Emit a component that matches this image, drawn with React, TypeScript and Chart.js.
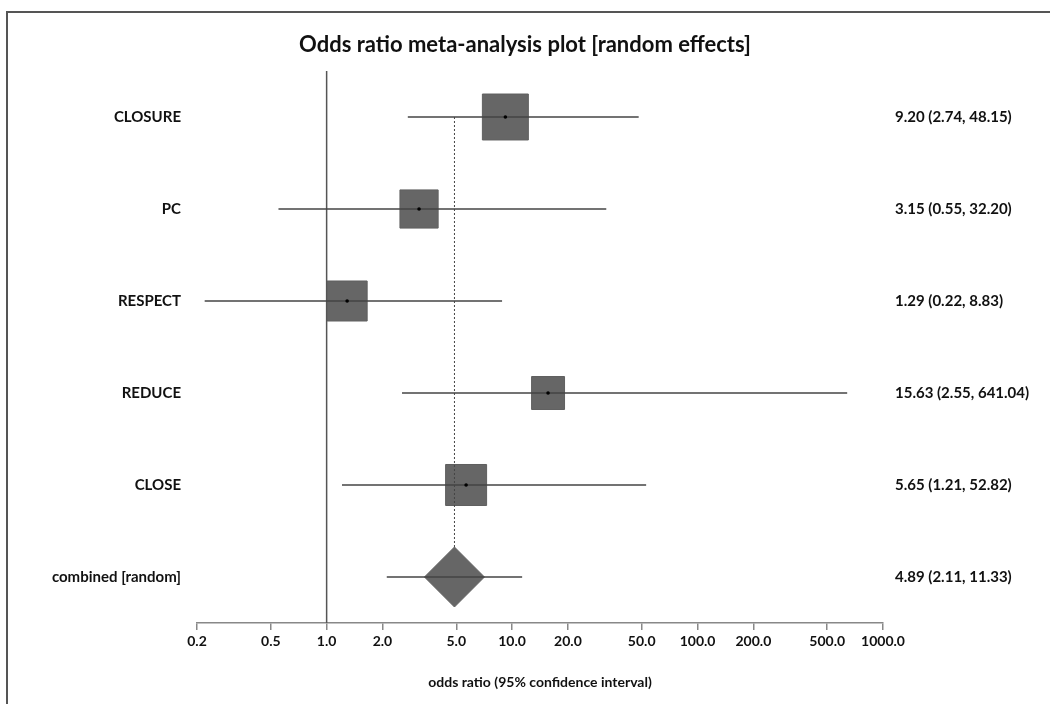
import React, { useEffect, useRef } from "react";
import { Chart, registerables } from "chart.js";

Chart.register(...registerables);

const studies = ["CLOSURE", "PC", "RESPECT", "REDUCE", "CLOSE", "combined [random]"];
const oddsRatio = [9.2, 3.15, 1.29, 15.63, 5.65, 4.89];
const ciLower = [2.74, 0.55, 0.22, 2.55, 1.21, 2.11];
const ciUpper = [48.15, 32.2, 8.83, 641.04, 52.82, 11.33];
const xTicks = [0.2, 0.5, 1, 2, 5, 10, 20, 50, 100, 200, 500, 1000];
const nullValue = 1;

const FONT = "Lato, 'DejaVu Sans', sans-serif";
const boxRadius = [32.5, 27, 28.3, 23.3, 29];

export default function App() {
  const ref = useRef<HTMLCanvasElement | null>(null);

  useEffect(() => {
    const canvas = ref.current;
    if (!canvas) return;
    const n = studies.length;
    const last = n - 1;
    const rowIdx = studies.map((_, i) => i);
    const rightLabels = studies.map(
      (_, i) => `${oddsRatio[i].toFixed(2)} (${ciLower[i].toFixed(2)}, ${ciUpper[i].toFixed(2)})`
    );

    const datasets: any[] = [];
    datasets.push({
      label: "boxes",
      data: rowIdx.slice(0, last).map((i) => ({ x: oddsRatio[i], y: i })),
      pointStyle: "rect",
      pointRadius: boxRadius,
      backgroundColor: "#666666",
      borderColor: "#606060",
      borderWidth: 1,
      order: 6,
    });
    datasets.push({
      label: "combinedLine",
      data: [
        { x: oddsRatio[last], y: 0 },
        { x: oddsRatio[last], y: last },
      ],
      showLine: true,
      borderColor: "#444444",
      borderWidth: 1,
      borderDash: [2, 2],
      pointRadius: 0,
      order: 5,
    });
    datasets.push({
      label: "diamond",
      data: [{ x: oddsRatio[last], y: last }],
      pointStyle: "rectRot",
      pointRadius: 30,
      backgroundColor: "#666666",
      borderColor: "#606060",
      borderWidth: 1,
      order: 4,
    });
    datasets.push({
      label: "nullLine",
      data: [
        { x: nullValue, y: -0.5 },
        { x: nullValue, y: n - 0.5 },
      ],
      showLine: true,
      borderColor: "#555555",
      borderWidth: 1.5,
      pointRadius: 0,
      order: 3,
    });
    rowIdx.forEach((i) => {
      datasets.push({
        label: "ci" + i,
        data: [
          { x: ciLower[i], y: i },
          { x: ciUpper[i], y: i },
        ],
        showLine: true,
        borderColor: "#444444",
        borderWidth: 1.5,
        pointRadius: 0,
        order: 2,
      });
    });
    datasets.push({
      label: "dots",
      data: rowIdx.slice(0, last).map((i) => ({ x: oddsRatio[i], y: i })),
      pointStyle: "circle",
      pointRadius: 1.8,
      backgroundColor: "#000000",
      borderWidth: 0,
      order: 1,
    });

    const rowTicks = (axis: any) => {
      axis.ticks = rowIdx.map((v) => ({ value: v }));
    };

    const chart = new Chart(canvas, {
      type: "scatter",
      data: { datasets },
      options: {
        animation: false,
        responsive: false,
        maintainAspectRatio: false,
        layout: { padding: { left: 0, right: 0, top: 0, bottom: 0 } },
        plugins: {
          legend: { display: false },
          tooltip: { enabled: false },
          title: {
            display: true,
            text: "Odds ratio meta-analysis plot [random effects]",
            color: "#111111",
            font: { family: FONT, size: 22, weight: "bold", lineHeight: 1.2 },
            padding: { top: 32, bottom: 12.6 },
          },
        },
        scales: {
          x: {
            type: "logarithmic",
            min: 0.2,
            max: 1000,
            afterBuildTicks: (axis: any) => {
              axis.ticks = xTicks.map((v) => ({ value: v }));
            },
            afterFit: (scale: any) => {
              scale.height = 81;
            },
            ticks: {
              autoSkip: false,
              maxRotation: 0,
              minRotation: 0,
              padding: 2.6,
              color: "#111111",
              font: { family: FONT, size: 14, weight: "bold" },
              callback: (v: any) => Number(v).toFixed(1),
            },
            grid: {
              display: true,
              drawOnChartArea: false,
              drawTicks: true,
              tickLength: 7,
              color: "#888888",
              lineWidth: 1.5,
            },
            border: { display: true, color: "#888888", width: 1.5 },
            title: {
              display: true,
              text: "odds ratio (95% confidence interval)",
              color: "#111111",
              font: { family: FONT, size: 14, weight: "bold", lineHeight: 1.2 },
              padding: { top: 0, bottom: 13.6 },
            },
          },
          y: {
            type: "linear",
            position: "left",
            min: -0.5,
            max: n - 0.5,
            reverse: true,
            afterBuildTicks: rowTicks,
            afterFit: (scale: any) => {
              scale.width = 197;
            },
            ticks: {
              autoSkip: false,
              padding: 16,
              color: "#111111",
              font: { family: FONT, size: 15, weight: "bold" },
              callback: (v: any) => studies[Math.round(Number(v))] ?? "",
            },
            grid: { display: false, drawTicks: false },
            border: { display: false },
          },
          y2: {
            type: "linear",
            position: "right",
            min: -0.5,
            max: n - 0.5,
            reverse: true,
            afterBuildTicks: rowTicks,
            afterFit: (scale: any) => {
              scale.width = 1050 - 883;
            },
            ticks: {
              autoSkip: false,
              padding: 12,
              color: "#111111",
              font: { family: FONT, size: 15, weight: "bold" },
              callback: (v: any) => rightLabels[Math.round(Number(v))] ?? "",
            },
            grid: { display: false, drawTicks: false },
            border: { display: false },
          },
        },
      },
    });
    return () => chart.destroy();
  }, []);

  return (
    <div style={{ position: "fixed", left: 0, top: 0, width: 1050, height: 704, background: "#ffffff", overflow: "hidden" }}>
      <div
        style={{
          position: "absolute",
          left: 6,
          top: 11,
          width: 1100,
          height: 800,
          borderTop: "2px solid #555555",
          borderLeft: "2px solid #555555",
          pointerEvents: "none",
        }}
      />
      <canvas ref={ref} width={1050} height={704} style={{ position: "absolute", left: 0, top: 0 }} />
    </div>
  );
}
